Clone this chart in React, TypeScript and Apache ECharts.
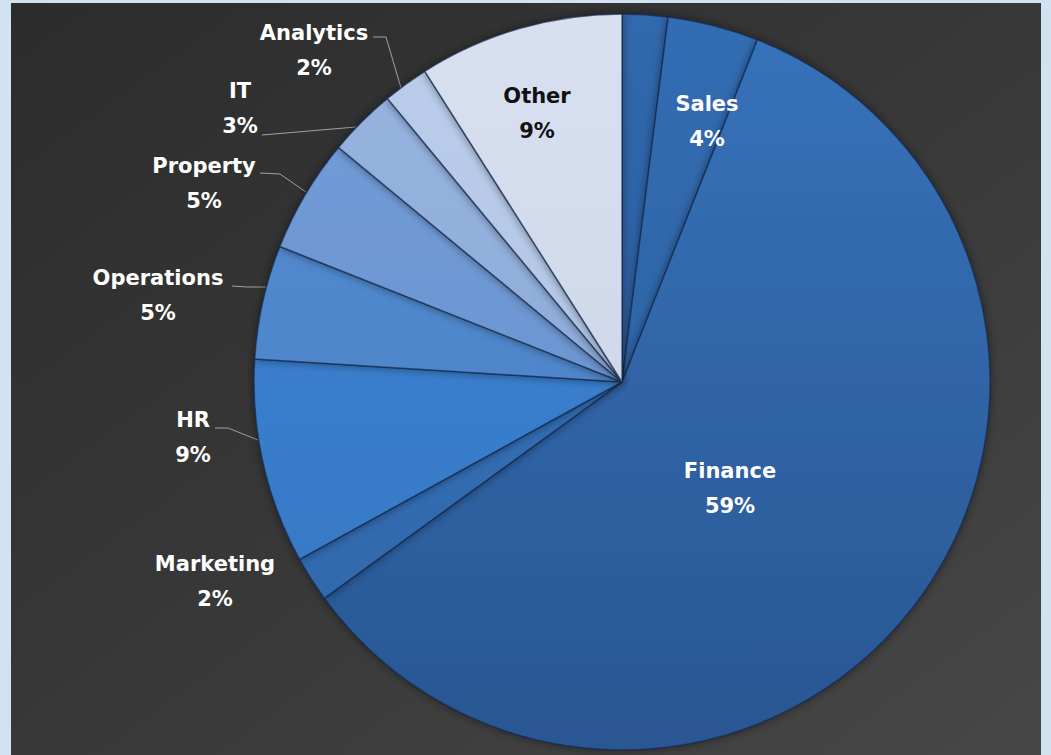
import { useEffect, useRef } from "react";
import * as echarts from "echarts";

// ---- data ----
const categories = ["", "Sales", "Finance", "Marketing", "HR", "Operations", "Property", "IT", "Analytics", "Other"];
const shares = [2, 4, 59, 2, 9, 5, 5, 3, 2, 9];

// ---- styling ----
const sliceTop = [
  "#3068ad",
  "#326db3",
  "#3773bb",
  "#3676c0",
  "#3e86d6",
  "#548dd4",
  "#739dd8",
  "#97b4e0",
  "#bacdea",
  "#d8e0f0",
];
const sliceBottom = [
  "#295b9a",
  "#2a5d9c",
  "#295692",
  "#2f66a8",
  "#3576c2",
  "#4a7fc2",
  "#6690cb",
  "#89a7d6",
  "#adc0e0",
  "#c8d2e6",
];
const labelColors = ["#ffffff", "#ffffff", "#ffffff", "#ffffff", "#ffffff", "#ffffff", "#ffffff", "#ffffff", "#ffffff", "#111111"];

// label block centres (chart pixels) and leader lines
const labelPlacement: { x: number; y: number; line?: number[][] }[] = [
  { x: 0, y: 0 },
  { x: 707, y: 121 },
  { x: 730, y: 488 },
  { x: 215, y: 581 },
  { x: 193, y: 437, line: [[215, 428], [228, 428], [258, 440]] },
  { x: 158, y: 295, line: [[232, 286], [247, 287], [266, 287]] },
  { x: 204, y: 183, line: [[260, 173], [280, 174], [306, 192]] },
  { x: 240, y: 108, line: [[262, 135], [356, 127]] },
  { x: 314, y: 50, line: [[373, 37], [386, 37], [401, 88]] },
  { x: 537, y: 113 },
];
const hasLeader = [false, false, false, false, true, true, true, true, true, false];

export default function App() {
  const ref = useRef<HTMLDivElement>(null);

  useEffect(() => {
    if (!ref.current) return;
    const chart = echarts.init(ref.current, undefined, { renderer: "svg" });

    const data = categories.map((name, i) => ({
      name,
      value: shares[i],
      itemStyle: {
        color: new echarts.graphic.LinearGradient(
          0, 14, 0, 750,
          [
            { offset: 0, color: sliceTop[i] },
            { offset: 1, color: sliceBottom[i] },
          ],
          true
        ),
      },
      label: { show: name !== "", color: labelColors[i] },
      labelLine: { show: hasLeader[i] },
    }));

    chart.setOption({
      animation: false,
      backgroundColor: "#d2e2f2",
      graphic: [
        {
          type: "rect",
          z: -10,
          silent: true,
          shape: { x: 11, y: 3, width: 1030, height: 752 },
          style: {
            fill: new echarts.graphic.LinearGradient(0, 0, 1, 1, [
              { offset: 0, color: "#2c2c2c" },
              { offset: 0.5, color: "#383838" },
              { offset: 1, color: "#474747" },
            ]),
          },
        },
      ],
      series: [
        {
          type: "pie",
          center: [622, 382],
          radius: 368,
          startAngle: 90,
          clockwise: true,
          avoidLabelOverlap: false,
          itemStyle: {
            borderColor: "rgba(20,40,75,0.65)",
            borderWidth: 1.5,
            shadowBlur: 10,
            shadowColor: "rgba(0,0,0,0.45)",
          },
          label: {
            position: "outside",
            formatter: (p: any) => `${p.name}\n${p.value}%`,
            fontFamily: "DejaVu Sans",
            fontWeight: "bold",
            fontSize: 21,
            lineHeight: 35,
            align: "center",
          },
          labelLine: {
            show: true,
            length: 8,
            length2: 8,
            lineStyle: { color: "#a0a0a0", width: 1 },
          },
          labelLayout: (params: any) => {
            const p = labelPlacement[params.dataIndex];
            const out: any = { x: p.x, y: p.y, align: "center", verticalAlign: "middle" };
            if (p.line) out.labelLinePoints = p.line;
            return out;
          },
          data,
        },
      ],
    });

    return () => chart.dispose();
  }, []);

  return (
    <div
      ref={ref}
      style={{ position: "fixed", left: 0, top: 0, width: 1051, height: 755 }}
    />
  );
}
